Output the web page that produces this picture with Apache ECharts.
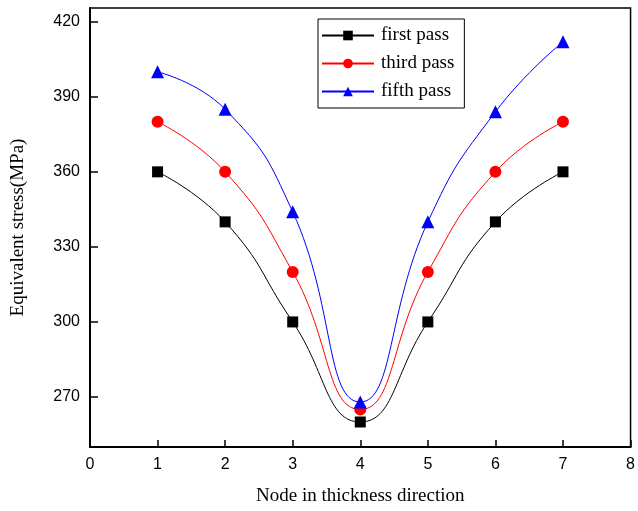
<!DOCTYPE html>
<html>
<head>
<meta charset="utf-8">
<script src="https://cdn.jsdelivr.net/npm/echarts@6/dist/echarts.min.js"></script>
<style>
  html, body { margin: 0; padding: 0; background: #fff; }
  #chart { width: 638px; height: 511px; }
</style>
</head>
<body>
<div id="chart"></div>
<script>
// Node positions through the plate thickness
const nodes = [1, 2, 3, 4, 5, 6, 7];
// Equivalent stress (MPa) at each node for each rolling pass
const firstPass = [360, 340, 300, 260, 300, 340, 360];
const thirdPass = [380, 360, 320, 265, 320, 360, 380];
const fifthPass = [400, 385, 344, 268, 340, 384, 412];
// Labelled ticks on the stress axis
const stressTicks = [270, 300, 330, 360, 390, 420];

const pair = (ys) => nodes.map((x, i) => [x, ys[i]]);

const serif = 'Liberation Serif';
const sans = 'Liberation Sans';

const chart = echarts.init(document.getElementById('chart'));
chart.setOption({
  animation: false,
  backgroundColor: '#fff',
  grid: {
    left: 90, right: 5, top: 8, bottom: 64,
    show: true, borderColor: '#000', borderWidth: 1.5
  },
  legend: {
    orient: 'vertical',
    left: 318, top: 19,
    width: 150,
    padding: [7, 10, 7, 3],
    itemGap: 9,
    itemWidth: 52, itemHeight: 12,
    borderColor: '#000', borderWidth: 1,
    backgroundColor: '#fff',
    textStyle: { fontFamily: serif, fontSize: 19, color: '#000', padding: [0, 0, 0, 2] },
    data: ['first pass', 'third pass', 'fifth pass']
  },
  xAxis: {
    type: 'value', min: 0, max: 8, interval: 1,
    name: 'Node in thickness direction',
    nameLocation: 'middle', nameGap: 40,
    nameTextStyle: { fontFamily: serif, fontSize: 19, color: '#000' },
    axisLine: { show: true, lineStyle: { color: '#000', width: 2 } },
    axisTick: { show: true, inside: true, length: 7, lineStyle: { color: '#000', width: 1.5 } },
    axisLabel: { fontFamily: sans, fontSize: 16, color: '#000', margin: 10 },
    splitLine: { show: false }
  },
  yAxis: {
    type: 'value', min: 250, max: 425.5,
    name: 'Equivalent stress(MPa)',
    nameLocation: 'middle', nameGap: 62,
    nameTextStyle: { fontFamily: serif, fontSize: 19, color: '#000' },
    axisLine: { show: true, lineStyle: { color: '#000', width: 2 } },
    axisTick: { show: true, inside: true, length: 8, customValues: stressTicks, lineStyle: { color: '#000', width: 1.5 } },
    axisLabel: { fontFamily: sans, fontSize: 16, color: '#000', margin: 10, customValues: stressTicks },
    splitLine: { show: false }
  },
  series: [
    {
      name: 'first pass', type: 'line', smooth: 0.5,
      data: pair(firstPass),
      symbol: 'rect', symbolSize: 11,
      itemStyle: { color: '#000' },
      lineStyle: { color: '#000', width: 1 }
    },
    {
      name: 'third pass', type: 'line', smooth: 0.5,
      data: pair(thirdPass),
      symbol: 'circle', symbolSize: 12,
      itemStyle: { color: '#ff0000' },
      lineStyle: { color: '#ff0000', width: 1 }
    },
    {
      name: 'fifth pass', type: 'line', smooth: 0.5,
      data: pair(fifthPass),
      symbol: 'triangle', symbolSize: 13,
      itemStyle: { color: '#0000ff' },
      lineStyle: { color: '#0000ff', width: 1 }
    }
  ]
});
</script>
</body>
</html>
